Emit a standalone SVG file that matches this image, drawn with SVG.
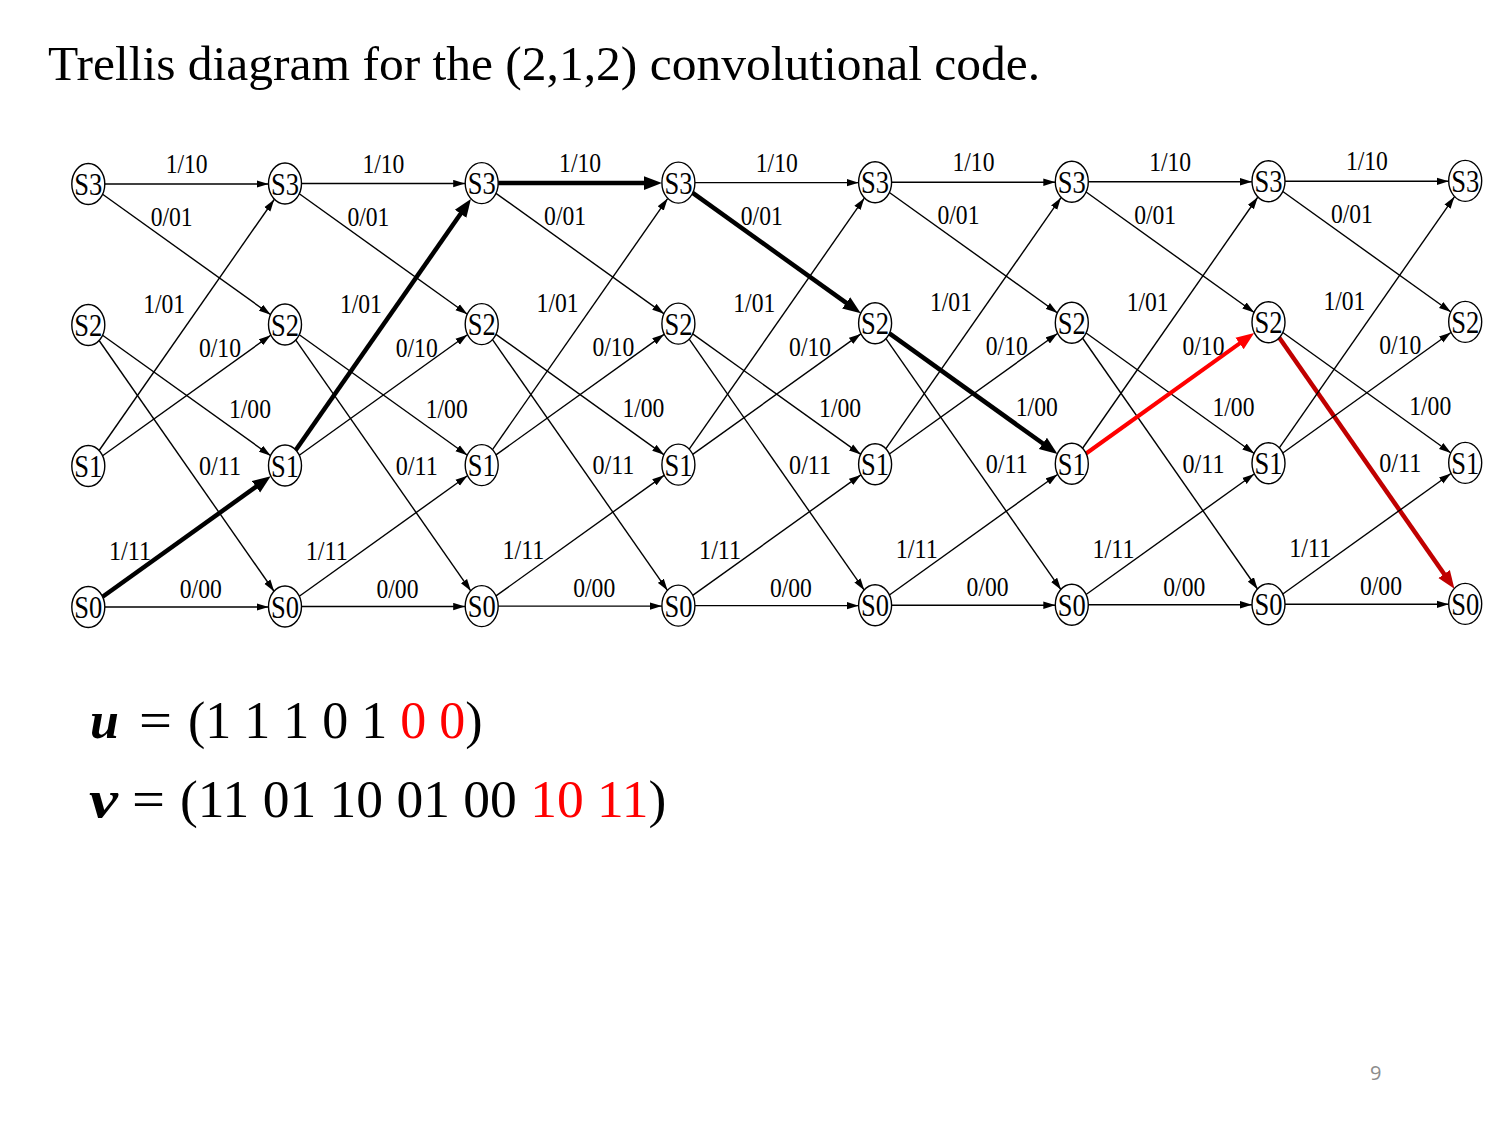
<svg xmlns="http://www.w3.org/2000/svg" width="1500" height="1125" viewBox="0 0 1500 1125">
<style>
.e{stroke:#000;stroke-width:1.4;fill:none;marker-end:url(#a)}
.t{stroke:#000;stroke-width:4.5;fill:none;marker-end:url(#ab)}
.r{stroke:#f00;stroke-width:4;fill:none;marker-end:url(#ar)}
.d{stroke:#c00000;stroke-width:4.5;fill:none;marker-end:url(#ad)}
.n ellipse{fill:#fff;stroke:#000;stroke-width:1.4}
.n text{font-family:"Liberation Serif",serif;font-size:32px;text-anchor:middle;fill:#000}
.l{font-family:"Liberation Serif",serif;font-size:27px;text-anchor:middle;fill:#000}
.m{font-family:"Liberation Serif",serif;font-size:52px;fill:#000}
</style>
<defs>
<marker id="a" markerUnits="userSpaceOnUse" markerWidth="12" markerHeight="8" refX="12" refY="4" orient="auto"><path d="M0,0.3 L12,4 L0,7.7 z" fill="#000"/></marker>
<marker id="ab" markerUnits="userSpaceOnUse" markerWidth="19" markerHeight="15" refX="4" refY="7.5" orient="auto"><path d="M0,0.5 L18,7.5 L0,14.5 z" fill="#000"/></marker>
<marker id="ar" markerUnits="userSpaceOnUse" markerWidth="19" markerHeight="15" refX="4" refY="7.5" orient="auto"><path d="M0,0.5 L18,7.5 L0,14.5 z" fill="#f00"/></marker>
<marker id="ad" markerUnits="userSpaceOnUse" markerWidth="19" markerHeight="15" refX="4" refY="7.5" orient="auto"><path d="M0,0.5 L18,7.5 L0,14.5 z" fill="#c00000"/></marker>
</defs>
<rect width="1500" height="1125" fill="#fff"/>
<text x="48" y="80" font-family="Liberation Serif, serif" font-size="49.5" fill="#000">Trellis diagram for the (2,1,2) convolutional code.</text>

<g id="connectors">
<g id="stage0">
<line class="e" x1="104.8" y1="184" x2="268.5" y2="184"/>
<line class="e" x1="102.6" y1="194.25" x2="270.7" y2="314.75"/>
<line class="e" x1="102.6" y1="335.25" x2="270.7" y2="455.75"/>
<line class="e" x1="99.1" y1="340.5" x2="274.2" y2="591.5"/>
<line class="e" x1="99.1" y1="450.5" x2="274.2" y2="199.5"/>
<line class="e" x1="102.6" y1="455.75" x2="270.7" y2="335.25"/>
<line class="t" x1="102.6" y1="596.75" x2="259.3" y2="484.45"/>
<line class="e" x1="104.8" y1="607" x2="268.5" y2="607"/>
</g>
<g id="stage1" transform="translate(196.7,-0.45)">
<line class="e" x1="104.8" y1="184" x2="268.5" y2="184"/>
<line class="e" x1="102.6" y1="194.25" x2="270.7" y2="314.75"/>
<line class="e" x1="102.6" y1="335.25" x2="270.7" y2="455.75"/>
<line class="e" x1="99.1" y1="340.5" x2="274.2" y2="591.5"/>
<line class="t" x1="99.1" y1="450.5" x2="266.2" y2="211"/>
<line class="e" x1="102.6" y1="455.75" x2="270.7" y2="335.25"/>
<line class="e" x1="102.6" y1="596.75" x2="270.7" y2="476.25"/>
<line class="e" x1="104.8" y1="607" x2="268.5" y2="607"/>
</g>
<g id="stage2" transform="translate(393.4,-0.9)">
<line class="t" x1="104.8" y1="184" x2="254.5" y2="184"/>
<line class="e" x1="102.6" y1="194.25" x2="270.7" y2="314.75"/>
<line class="e" x1="102.6" y1="335.25" x2="270.7" y2="455.75"/>
<line class="e" x1="99.1" y1="340.5" x2="274.2" y2="591.5"/>
<line class="e" x1="99.1" y1="450.5" x2="274.2" y2="199.5"/>
<line class="e" x1="102.6" y1="455.75" x2="270.7" y2="335.25"/>
<line class="e" x1="102.6" y1="596.75" x2="270.7" y2="476.25"/>
<line class="e" x1="104.8" y1="607" x2="268.5" y2="607"/>
</g>
<g id="stage3" transform="translate(590.1,-1.35)">
<line class="e" x1="104.8" y1="184" x2="268.5" y2="184"/>
<line class="t" x1="102.6" y1="194.25" x2="259.3" y2="306.55"/>
<line class="e" x1="102.6" y1="335.25" x2="270.7" y2="455.75"/>
<line class="e" x1="99.1" y1="340.5" x2="274.2" y2="591.5"/>
<line class="e" x1="99.1" y1="450.5" x2="274.2" y2="199.5"/>
<line class="e" x1="102.6" y1="455.75" x2="270.7" y2="335.25"/>
<line class="e" x1="102.6" y1="596.75" x2="270.7" y2="476.25"/>
<line class="e" x1="104.8" y1="607" x2="268.5" y2="607"/>
</g>
<g id="stage4" transform="translate(786.8,-1.8)">
<line class="e" x1="104.8" y1="184" x2="268.5" y2="184"/>
<line class="e" x1="102.6" y1="194.25" x2="270.7" y2="314.75"/>
<line class="t" x1="102.6" y1="335.25" x2="259.3" y2="447.55"/>
<line class="e" x1="99.1" y1="340.5" x2="274.2" y2="591.5"/>
<line class="e" x1="99.1" y1="450.5" x2="274.2" y2="199.5"/>
<line class="e" x1="102.6" y1="455.75" x2="270.7" y2="335.25"/>
<line class="e" x1="102.6" y1="596.75" x2="270.7" y2="476.25"/>
<line class="e" x1="104.8" y1="607" x2="268.5" y2="607"/>
</g>
<g id="stage5" transform="translate(983.5,-2.25)">
<line class="e" x1="104.8" y1="184" x2="268.5" y2="184"/>
<line class="e" x1="102.6" y1="194.25" x2="270.7" y2="314.75"/>
<line class="e" x1="102.6" y1="335.25" x2="270.7" y2="455.75"/>
<line class="e" x1="99.1" y1="340.5" x2="274.2" y2="591.5"/>
<line class="e" x1="99.1" y1="450.5" x2="274.2" y2="199.5"/>
<line class="r" x1="102.6" y1="455.75" x2="259.3" y2="343.45"/>
<line class="e" x1="102.6" y1="596.75" x2="270.7" y2="476.25"/>
<line class="e" x1="104.8" y1="607" x2="268.5" y2="607"/>
</g>
<g id="stage6" transform="translate(1180.2,-2.7)">
<line class="e" x1="104.8" y1="184" x2="268.5" y2="184"/>
<line class="e" x1="102.6" y1="194.25" x2="270.7" y2="314.75"/>
<line class="e" x1="102.6" y1="335.25" x2="270.7" y2="455.75"/>
<line class="d" x1="99.1" y1="340.5" x2="266.2" y2="580"/>
<line class="e" x1="99.1" y1="450.5" x2="274.2" y2="199.5"/>
<line class="e" x1="102.6" y1="455.75" x2="270.7" y2="335.25"/>
<line class="e" x1="102.6" y1="596.75" x2="270.7" y2="476.25"/>
<line class="e" x1="104.8" y1="607" x2="268.5" y2="607"/>
</g>
</g>

<g id="edge-labels">
<g id="labels0">
<text class="l" x="186.7" y="173" textLength="42" lengthAdjust="spacingAndGlyphs">1/10</text>
<text class="l" x="171.7" y="226" textLength="42" lengthAdjust="spacingAndGlyphs">0/01</text>
<text class="l" x="164.2" y="313" textLength="42" lengthAdjust="spacingAndGlyphs">1/01</text>
<text class="l" x="220" y="357" textLength="42" lengthAdjust="spacingAndGlyphs">0/10</text>
<text class="l" x="250" y="418" textLength="42" lengthAdjust="spacingAndGlyphs">1/00</text>
<text class="l" x="220" y="475" textLength="42" lengthAdjust="spacingAndGlyphs">0/11</text>
<text class="l" x="130" y="560" textLength="42" lengthAdjust="spacingAndGlyphs">1/11</text>
<text class="l" x="200.8" y="598" textLength="42" lengthAdjust="spacingAndGlyphs">0/00</text>
</g>
<g id="labels1" transform="translate(196.7,-0.45)">
<text class="l" x="186.7" y="173" textLength="42" lengthAdjust="spacingAndGlyphs">1/10</text>
<text class="l" x="171.7" y="226" textLength="42" lengthAdjust="spacingAndGlyphs">0/01</text>
<text class="l" x="164.2" y="313" textLength="42" lengthAdjust="spacingAndGlyphs">1/01</text>
<text class="l" x="220" y="357" textLength="42" lengthAdjust="spacingAndGlyphs">0/10</text>
<text class="l" x="250" y="418" textLength="42" lengthAdjust="spacingAndGlyphs">1/00</text>
<text class="l" x="220" y="475" textLength="42" lengthAdjust="spacingAndGlyphs">0/11</text>
<text class="l" x="130" y="560" textLength="42" lengthAdjust="spacingAndGlyphs">1/11</text>
<text class="l" x="200.8" y="598" textLength="42" lengthAdjust="spacingAndGlyphs">0/00</text>
</g>
<g id="labels2" transform="translate(393.4,-0.9)">
<text class="l" x="186.7" y="173" textLength="42" lengthAdjust="spacingAndGlyphs">1/10</text>
<text class="l" x="171.7" y="226" textLength="42" lengthAdjust="spacingAndGlyphs">0/01</text>
<text class="l" x="164.2" y="313" textLength="42" lengthAdjust="spacingAndGlyphs">1/01</text>
<text class="l" x="220" y="357" textLength="42" lengthAdjust="spacingAndGlyphs">0/10</text>
<text class="l" x="250" y="418" textLength="42" lengthAdjust="spacingAndGlyphs">1/00</text>
<text class="l" x="220" y="475" textLength="42" lengthAdjust="spacingAndGlyphs">0/11</text>
<text class="l" x="130" y="560" textLength="42" lengthAdjust="spacingAndGlyphs">1/11</text>
<text class="l" x="200.8" y="598" textLength="42" lengthAdjust="spacingAndGlyphs">0/00</text>
</g>
<g id="labels3" transform="translate(590.1,-1.35)">
<text class="l" x="186.7" y="173" textLength="42" lengthAdjust="spacingAndGlyphs">1/10</text>
<text class="l" x="171.7" y="226" textLength="42" lengthAdjust="spacingAndGlyphs">0/01</text>
<text class="l" x="164.2" y="313" textLength="42" lengthAdjust="spacingAndGlyphs">1/01</text>
<text class="l" x="220" y="357" textLength="42" lengthAdjust="spacingAndGlyphs">0/10</text>
<text class="l" x="250" y="418" textLength="42" lengthAdjust="spacingAndGlyphs">1/00</text>
<text class="l" x="220" y="475" textLength="42" lengthAdjust="spacingAndGlyphs">0/11</text>
<text class="l" x="130" y="560" textLength="42" lengthAdjust="spacingAndGlyphs">1/11</text>
<text class="l" x="200.8" y="598" textLength="42" lengthAdjust="spacingAndGlyphs">0/00</text>
</g>
<g id="labels4" transform="translate(786.8,-1.8)">
<text class="l" x="186.7" y="173" textLength="42" lengthAdjust="spacingAndGlyphs">1/10</text>
<text class="l" x="171.7" y="226" textLength="42" lengthAdjust="spacingAndGlyphs">0/01</text>
<text class="l" x="164.2" y="313" textLength="42" lengthAdjust="spacingAndGlyphs">1/01</text>
<text class="l" x="220" y="357" textLength="42" lengthAdjust="spacingAndGlyphs">0/10</text>
<text class="l" x="250" y="418" textLength="42" lengthAdjust="spacingAndGlyphs">1/00</text>
<text class="l" x="220" y="475" textLength="42" lengthAdjust="spacingAndGlyphs">0/11</text>
<text class="l" x="130" y="560" textLength="42" lengthAdjust="spacingAndGlyphs">1/11</text>
<text class="l" x="200.8" y="598" textLength="42" lengthAdjust="spacingAndGlyphs">0/00</text>
</g>
<g id="labels5" transform="translate(983.5,-2.25)">
<text class="l" x="186.7" y="173" textLength="42" lengthAdjust="spacingAndGlyphs">1/10</text>
<text class="l" x="171.7" y="226" textLength="42" lengthAdjust="spacingAndGlyphs">0/01</text>
<text class="l" x="164.2" y="313" textLength="42" lengthAdjust="spacingAndGlyphs">1/01</text>
<text class="l" x="220" y="357" textLength="42" lengthAdjust="spacingAndGlyphs">0/10</text>
<text class="l" x="250" y="418" textLength="42" lengthAdjust="spacingAndGlyphs">1/00</text>
<text class="l" x="220" y="475" textLength="42" lengthAdjust="spacingAndGlyphs">0/11</text>
<text class="l" x="130" y="560" textLength="42" lengthAdjust="spacingAndGlyphs">1/11</text>
<text class="l" x="200.8" y="598" textLength="42" lengthAdjust="spacingAndGlyphs">0/00</text>
</g>
<g id="labels6" transform="translate(1180.2,-2.7)">
<text class="l" x="186.7" y="173" textLength="42" lengthAdjust="spacingAndGlyphs">1/10</text>
<text class="l" x="171.7" y="226" textLength="42" lengthAdjust="spacingAndGlyphs">0/01</text>
<text class="l" x="164.2" y="313" textLength="42" lengthAdjust="spacingAndGlyphs">1/01</text>
<text class="l" x="220" y="357" textLength="42" lengthAdjust="spacingAndGlyphs">0/10</text>
<text class="l" x="250" y="418" textLength="42" lengthAdjust="spacingAndGlyphs">1/00</text>
<text class="l" x="220" y="475" textLength="42" lengthAdjust="spacingAndGlyphs">0/11</text>
<text class="l" x="130" y="560" textLength="42" lengthAdjust="spacingAndGlyphs">1/11</text>
<text class="l" x="200.8" y="598" textLength="42" lengthAdjust="spacingAndGlyphs">0/00</text>
</g>
</g>

<g id="nodes">
<g id="c0-S3" class="n" transform="translate(88.3,184)"><ellipse rx="16.5" ry="20.5"/><text y="11" textLength="28" lengthAdjust="spacingAndGlyphs">S3</text></g>
<g id="c0-S2" class="n" transform="translate(88.3,325)"><ellipse rx="16.5" ry="20.5"/><text y="11" textLength="28" lengthAdjust="spacingAndGlyphs">S2</text></g>
<g id="c0-S1" class="n" transform="translate(88.3,466)"><ellipse rx="16.5" ry="20.5"/><text y="11" textLength="28" lengthAdjust="spacingAndGlyphs">S1</text></g>
<g id="c0-S0" class="n" transform="translate(88.3,607)"><ellipse rx="16.5" ry="20.5"/><text y="11" textLength="28" lengthAdjust="spacingAndGlyphs">S0</text></g>
<g id="c1-S3" class="n" transform="translate(285,183.55)"><ellipse rx="16.5" ry="20.5"/><text y="11" textLength="28" lengthAdjust="spacingAndGlyphs">S3</text></g>
<g id="c1-S2" class="n" transform="translate(285,324.55)"><ellipse rx="16.5" ry="20.5"/><text y="11" textLength="28" lengthAdjust="spacingAndGlyphs">S2</text></g>
<g id="c1-S1" class="n" transform="translate(285,465.55)"><ellipse rx="16.5" ry="20.5"/><text y="11" textLength="28" lengthAdjust="spacingAndGlyphs">S1</text></g>
<g id="c1-S0" class="n" transform="translate(285,606.55)"><ellipse rx="16.5" ry="20.5"/><text y="11" textLength="28" lengthAdjust="spacingAndGlyphs">S0</text></g>
<g id="c2-S3" class="n" transform="translate(481.7,183.1)"><ellipse rx="16.5" ry="20.5"/><text y="11" textLength="28" lengthAdjust="spacingAndGlyphs">S3</text></g>
<g id="c2-S2" class="n" transform="translate(481.7,324.1)"><ellipse rx="16.5" ry="20.5"/><text y="11" textLength="28" lengthAdjust="spacingAndGlyphs">S2</text></g>
<g id="c2-S1" class="n" transform="translate(481.7,465.1)"><ellipse rx="16.5" ry="20.5"/><text y="11" textLength="28" lengthAdjust="spacingAndGlyphs">S1</text></g>
<g id="c2-S0" class="n" transform="translate(481.7,606.1)"><ellipse rx="16.5" ry="20.5"/><text y="11" textLength="28" lengthAdjust="spacingAndGlyphs">S0</text></g>
<g id="c3-S3" class="n" transform="translate(678.4,182.65)"><ellipse rx="16.5" ry="20.5"/><text y="11" textLength="28" lengthAdjust="spacingAndGlyphs">S3</text></g>
<g id="c3-S2" class="n" transform="translate(678.4,323.65)"><ellipse rx="16.5" ry="20.5"/><text y="11" textLength="28" lengthAdjust="spacingAndGlyphs">S2</text></g>
<g id="c3-S1" class="n" transform="translate(678.4,464.65)"><ellipse rx="16.5" ry="20.5"/><text y="11" textLength="28" lengthAdjust="spacingAndGlyphs">S1</text></g>
<g id="c3-S0" class="n" transform="translate(678.4,605.65)"><ellipse rx="16.5" ry="20.5"/><text y="11" textLength="28" lengthAdjust="spacingAndGlyphs">S0</text></g>
<g id="c4-S3" class="n" transform="translate(875.1,182.2)"><ellipse rx="16.5" ry="20.5"/><text y="11" textLength="28" lengthAdjust="spacingAndGlyphs">S3</text></g>
<g id="c4-S2" class="n" transform="translate(875.1,323.2)"><ellipse rx="16.5" ry="20.5"/><text y="11" textLength="28" lengthAdjust="spacingAndGlyphs">S2</text></g>
<g id="c4-S1" class="n" transform="translate(875.1,464.2)"><ellipse rx="16.5" ry="20.5"/><text y="11" textLength="28" lengthAdjust="spacingAndGlyphs">S1</text></g>
<g id="c4-S0" class="n" transform="translate(875.1,605.2)"><ellipse rx="16.5" ry="20.5"/><text y="11" textLength="28" lengthAdjust="spacingAndGlyphs">S0</text></g>
<g id="c5-S3" class="n" transform="translate(1071.8,181.75)"><ellipse rx="16.5" ry="20.5"/><text y="11" textLength="28" lengthAdjust="spacingAndGlyphs">S3</text></g>
<g id="c5-S2" class="n" transform="translate(1071.8,322.75)"><ellipse rx="16.5" ry="20.5"/><text y="11" textLength="28" lengthAdjust="spacingAndGlyphs">S2</text></g>
<g id="c5-S1" class="n" transform="translate(1071.8,463.75)"><ellipse rx="16.5" ry="20.5"/><text y="11" textLength="28" lengthAdjust="spacingAndGlyphs">S1</text></g>
<g id="c5-S0" class="n" transform="translate(1071.8,604.75)"><ellipse rx="16.5" ry="20.5"/><text y="11" textLength="28" lengthAdjust="spacingAndGlyphs">S0</text></g>
<g id="c6-S3" class="n" transform="translate(1268.5,181.3)"><ellipse rx="16.5" ry="20.5"/><text y="11" textLength="28" lengthAdjust="spacingAndGlyphs">S3</text></g>
<g id="c6-S2" class="n" transform="translate(1268.5,322.3)"><ellipse rx="16.5" ry="20.5"/><text y="11" textLength="28" lengthAdjust="spacingAndGlyphs">S2</text></g>
<g id="c6-S1" class="n" transform="translate(1268.5,463.3)"><ellipse rx="16.5" ry="20.5"/><text y="11" textLength="28" lengthAdjust="spacingAndGlyphs">S1</text></g>
<g id="c6-S0" class="n" transform="translate(1268.5,604.3)"><ellipse rx="16.5" ry="20.5"/><text y="11" textLength="28" lengthAdjust="spacingAndGlyphs">S0</text></g>
<g id="c7-S3" class="n" transform="translate(1465.2,180.85)"><ellipse rx="16.5" ry="20.5"/><text y="11" textLength="28" lengthAdjust="spacingAndGlyphs">S3</text></g>
<g id="c7-S2" class="n" transform="translate(1465.2,321.85)"><ellipse rx="16.5" ry="20.5"/><text y="11" textLength="28" lengthAdjust="spacingAndGlyphs">S2</text></g>
<g id="c7-S1" class="n" transform="translate(1465.2,462.85)"><ellipse rx="16.5" ry="20.5"/><text y="11" textLength="28" lengthAdjust="spacingAndGlyphs">S1</text></g>
<g id="c7-S0" class="n" transform="translate(1465.2,603.85)"><ellipse rx="16.5" ry="20.5"/><text y="11" textLength="28" lengthAdjust="spacingAndGlyphs">S0</text></g>
</g>

<g id="sequences">
<text class="m" x="90" y="738" font-weight="bold" font-style="italic">u</text>
<text class="m" x="139" y="738" textLength="33" lengthAdjust="spacingAndGlyphs">=</text>
<text class="m" x="188" y="738">(1 1 1 0 1 <tspan fill="#f00">0 0</tspan>)</text>
<text class="m" x="89" y="817" font-weight="bold" font-style="italic" textLength="29" lengthAdjust="spacingAndGlyphs">v</text>
<text class="m" x="132" y="817" textLength="33" lengthAdjust="spacingAndGlyphs">=</text>
<text class="m" x="180" y="817" style="font-size:53.5px">(11 01 10 01 00 <tspan fill="#f00">10 11</tspan>)</text>
</g>
<text x="1370" y="1080" font-family="Open Sans, Liberation Sans, sans-serif" font-size="20" fill="#8c8c8c">9</text>
</svg>
